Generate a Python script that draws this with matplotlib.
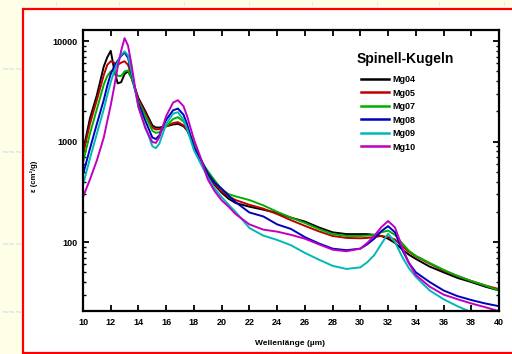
import matplotlib
matplotlib.use("Agg")
import matplotlib.pyplot as plt
from matplotlib.patches import Rectangle
from matplotlib.ticker import FixedLocator, LogLocator, NullFormatter

# Wavelength grid (µm)
wavelength = [10, 10.5, 11, 11.5, 11.75, 12, 12.25, 12.5, 12.75, 13, 13.25, 13.5,
              13.75, 14, 14.5, 15, 15.25, 15.5, 16, 16.5, 16.85, 17.25, 17.5, 18,
              18.5, 19, 19.5, 20, 20.5, 21, 22, 23, 24, 25, 26, 27, 28, 29, 30,
              30.5, 31, 31.5, 32, 32.5, 33, 33.5, 34, 35, 36, 37, 38, 39, 40]

# Mass absorption coefficient (cm^2/g) of the spinel spheres
mg04 = [800, 1700, 2900, 5600, 6900, 8000, 5200, 3800, 3900, 4700, 5000, 4300,
        3400, 2700, 2000, 1450, 1380, 1380, 1420, 1480, 1500, 1420, 1300, 920,
        650, 460, 370, 310, 270, 245, 225, 210, 195, 175, 160, 140, 125, 120, 120,
        120, 118, 115, 108, 98, 85, 75, 68, 57, 50, 44, 40, 36, 33]
mg05 = [750, 1500, 2600, 4600, 5800, 6300, 6100, 5800, 6100, 6300, 5800, 4500,
        3400, 2600, 1900, 1380, 1320, 1330, 1420, 1530, 1560, 1450, 1320, 930,
        670, 480, 380, 320, 285, 262, 235, 215, 190, 165, 145, 128, 115, 110, 109,
        110, 112, 115, 112, 106, 92, 80, 72, 61, 52, 46, 41, 37, 34]
mg07 = [620, 1200, 2100, 3700, 4500, 5000, 5200, 4500, 4500, 5000, 5100, 4300,
        3300, 2500, 1800, 1280, 1220, 1240, 1420, 1680, 1750, 1580, 1400, 950,
        640, 510, 410, 335, 300, 285, 262, 232, 200, 175, 155, 135, 120, 115, 115,
        116, 118, 125, 130, 118, 98, 82, 73, 62, 53, 46, 41, 37, 33]
mg08 = [470, 850, 1500, 2600, 3600, 4700, 5600, 6400, 7100, 7700, 6800, 4800,
        3300, 2400, 1600, 1100, 1060, 1150, 1650, 2050, 2130, 1850, 1500, 880,
        660, 480, 390, 340, 290, 250, 197, 180, 150, 135, 112, 97, 86, 83, 86,
        95, 108, 128, 144, 125, 85, 62, 50, 40, 33, 29, 26.5, 24.5, 23]
mg09 = [370, 680, 1200, 2100, 2900, 3900, 5000, 6200, 7300, 7900, 7200, 5000,
        3300, 2200, 1400, 900, 860, 950, 1500, 1900, 1960, 1650, 1350, 820,
        600, 440, 340, 280, 235, 200, 138, 116, 105, 93, 78, 67, 58, 54, 56,
        63, 74, 95, 121, 100, 72, 55, 45, 33, 27, 23, 20, 17.5, 15.5]
mg10 = [280, 420, 650, 1100, 1600, 2300, 3500, 5500, 8000, 10700, 9000, 5800,
        3500, 2200, 1350, 990, 970, 1100, 1800, 2450, 2580, 2250, 1800, 1050,
        680, 420, 320, 260, 225, 190, 150, 133, 127, 118, 108, 95, 84, 81, 86,
        98, 115, 140, 162, 140, 90, 62, 47, 36, 30, 27, 24.5, 22.5, 20.5]

series_names = ["Mg04", "Mg05", "Mg07", "Mg08", "Mg09", "Mg10"]
series_values = [mg04, mg05, mg07, mg08, mg09, mg10]
series_colors = ["#000000", "#C00000", "#00B000", "#0000C0", "#00B8B8", "#C000C0"]
x_ticks = [10, 12, 14, 16, 18, 20, 22, 24, 26, 28, 30, 32, 34, 36, 38, 40]

W, H = 512, 354
fig = plt.figure(figsize=(W / 100, H / 100), dpi=100)
fig.patch.set_facecolor("#FFFFE8")

# slide background: faint wave ornaments and a white panel with red frame
bg = fig.add_axes([0, 0, 1, 1], zorder=-5)
bg.set_xlim(0, W)
bg.set_ylim(H, 0)
bg.axis("off")
for yy in (70, 153, 245, 313):
    bg.text(1, yy, "~~~", color="#C8D4F0", fontsize=6, va="center", ha="left")
for xx in (57, 120, 185, 250, 313, 378, 440, 505):
    bg.text(xx, 3, "~", color="#D4DCF4", fontsize=5, va="center", ha="center",
            rotation=90)
bg.add_patch(Rectangle((23, 9), W + 10 - 23, 353 - 9, facecolor="white",
                       edgecolor="#FF0000", linewidth=1.6))

ax = fig.add_axes([83 / W, 1 - 311 / H, 416 / W, 281 / H], zorder=1)
ax.set_facecolor("white")

for name, vals, col in zip(series_names, series_values, series_colors):
    ax.plot(wavelength, vals, color=col, lw=1.4, label=name, solid_joinstyle="round")

ax.set_yscale("log")
ax.set_xlim(10, 40)
ax.set_ylim(20.6, 12900)

ax.xaxis.set_major_locator(FixedLocator(x_ticks))
ax.set_xticklabels([str(t) for t in x_ticks])
ax.yaxis.set_major_locator(FixedLocator([100, 1000, 10000]))
ax.set_yticklabels(["100", "1000", "10000"])
ax.yaxis.set_minor_locator(LogLocator(base=10, subs=range(2, 10)))
ax.yaxis.set_minor_formatter(NullFormatter())

ax.tick_params(axis="both", which="major", direction="in", length=4.5, width=1.3,
               top=True, right=True, labelsize=6.5)
ax.tick_params(axis="x", which="major", pad=5)
ax.tick_params(axis="y", which="major", pad=4)
ax.tick_params(axis="y", which="minor", direction="in", length=2.5, width=1.0,
               left=True, right=True)
for lab in ax.get_xticklabels() + ax.get_yticklabels():
    lab.set_fontweight("bold")
    lab.set_family("Liberation Sans")
for sp in ax.spines.values():
    sp.set_linewidth(1.6)

ax.set_xlabel("Wellenlänge (µm)", fontsize=6, fontweight="bold",
              family="Liberation Sans")
ax.xaxis.set_label_coords((290 - 83) / 416, -(340 - 311) / 281)
ax.set_ylabel("ε (cm²/g)", fontsize=5.5, fontweight="bold",
              family="Liberation Sans")
ax.yaxis.set_label_coords(-(83 - 38) / 416, (311 - 176) / 281)

# legend title and entries
fig.text(405 / W, 1 - 59 / H, "Spinell-Kugeln", fontsize=10, fontweight="bold",
         family="Liberation Sans", ha="center", va="center")
leg = ax.legend(loc="upper left", bbox_to_anchor=(361 / W, 1 - 75 / H),
                bbox_transform=fig.transFigure, frameon=False,
                prop={"weight": "bold", "size": 6.5, "family": "Liberation Sans"},
                handlelength=3.1, handletextpad=0.35, labelspacing=0.5,
                borderaxespad=0, borderpad=0)
for ln in leg.get_lines():
    ln.set_linewidth(1.8)

fig.savefig("out.png", dpi=100, facecolor=fig.get_facecolor())
